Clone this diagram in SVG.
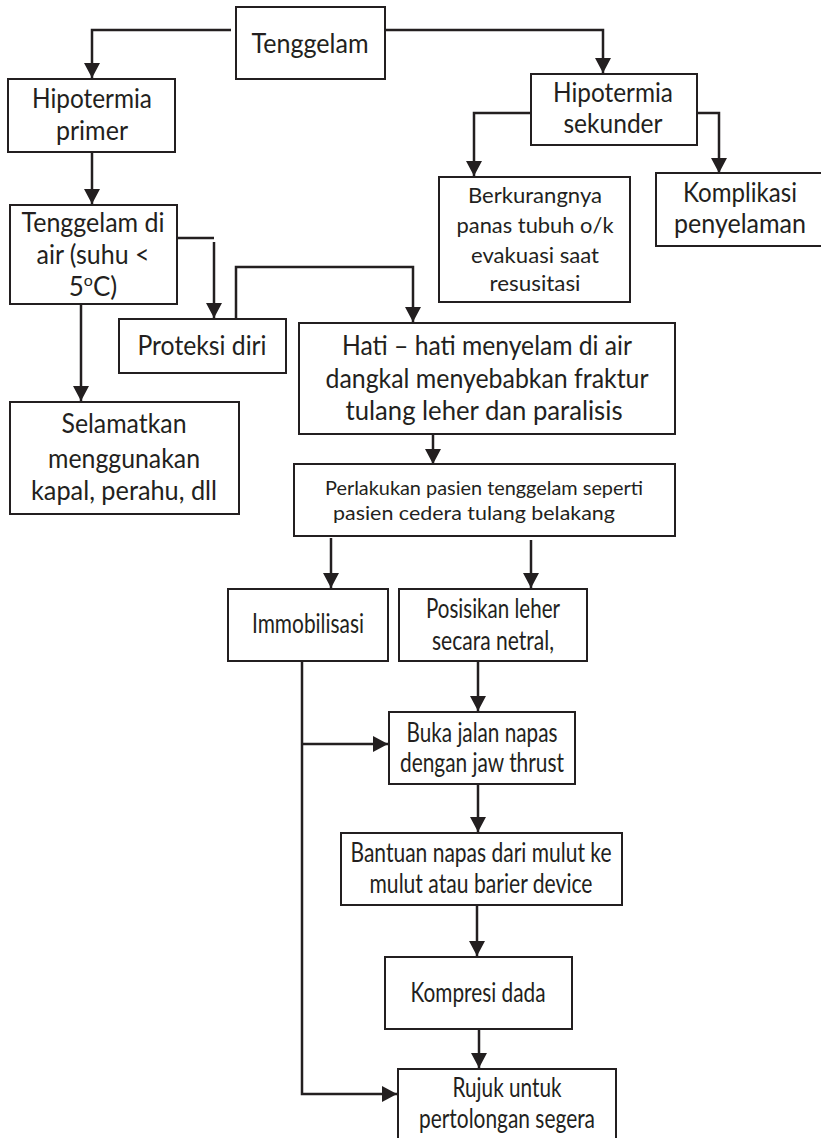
<svg xmlns="http://www.w3.org/2000/svg" width="821" height="1138" viewBox="0 0 821 1138">
  <style>
    .box { fill: #ffffff; stroke: #231f20; stroke-width: 2; }
    .t { font-family: Lato, "Liberation Sans", sans-serif; font-size: 26px; fill: #231f20; text-anchor: middle; }
    .s { font-size: 22px; }
    .xs { font-size: 19px; }
    .link { fill: none; stroke: #231f20; stroke-width: 2.5; }
  </style>
  <defs>
    <marker id="arrow" viewBox="0 0 15 16" refX="15" refY="8" markerWidth="15" markerHeight="16" markerUnits="userSpaceOnUse" orient="auto">
      <path d="M0,0 L15,8 L0,16 z" fill="#231f20"/>
    </marker>
  </defs>
  <rect width="821" height="1138" fill="#ffffff"/>

  <g id="connectors">
    <path class="link" d="M231,30 H92 V78" marker-end="url(#arrow)"/>
    <path class="link" d="M385,30 H603 V73" marker-end="url(#arrow)"/>
    <path class="link" d="M92,152 V204" marker-end="url(#arrow)"/>
    <path class="link" d="M176,238 H214"/>
    <path class="link" d="M214,242 V318" marker-end="url(#arrow)"/>
    <path class="link" d="M236,319 V267 H413 V322" marker-end="url(#arrow)"/>
    <path class="link" d="M81,304 V401" marker-end="url(#arrow)"/>
    <path class="link" d="M531,113 H474 V176" marker-end="url(#arrow)"/>
    <path class="link" d="M697,113 H719 V173" marker-end="url(#arrow)"/>
    <path class="link" d="M433,434 V464" marker-end="url(#arrow)"/>
    <path class="link" d="M331,538 V588" marker-end="url(#arrow)"/>
    <path class="link" d="M531,540 V588" marker-end="url(#arrow)"/>
    <path class="link" d="M478,662 V711" marker-end="url(#arrow)"/>
    <path class="link" d="M302,661 V1094 H397" marker-end="url(#arrow)"/>
    <path class="link" d="M302,744 H388" marker-end="url(#arrow)"/>
    <path class="link" d="M478,784 V832" marker-end="url(#arrow)"/>
    <path class="link" d="M477,905 V956" marker-end="url(#arrow)"/>
    <path class="link" d="M479,1029 V1068" marker-end="url(#arrow)"/>
  </g>

  <g id="tenggelam">
    <rect class="box" x="236" y="7" width="149" height="72"/>
    <text class="t" x="310" y="53" textLength="117" lengthAdjust="spacingAndGlyphs">Tenggelam</text>
  </g>

  <g id="hipotermia-primer">
    <rect class="box" x="8" y="79" width="167" height="73"/>
    <text class="t" x="92" y="108" textLength="120" lengthAdjust="spacingAndGlyphs">Hipotermia</text>
    <text class="t" x="92" y="140" textLength="72" lengthAdjust="spacingAndGlyphs">primer</text>
  </g>

  <g id="tenggelam-air">
    <rect class="box" x="10" y="205" width="167" height="99"/>
    <text class="t" x="93" y="232" textLength="143" lengthAdjust="spacingAndGlyphs">Tenggelam di</text>
    <text class="t" x="93" y="264" textLength="113" lengthAdjust="spacingAndGlyphs">air (suhu &lt;</text>
    <text class="t" x="93" y="296">5<tspan font-size="16" dy="-10">o</tspan><tspan dy="10">C)</tspan></text>
  </g>

  <g id="hipotermia-sekunder">
    <rect class="box" x="531" y="74" width="166" height="71"/>
    <text class="t" x="613" y="102" textLength="120" lengthAdjust="spacingAndGlyphs">Hipotermia</text>
    <text class="t" x="613" y="133" textLength="99" lengthAdjust="spacingAndGlyphs">sekunder</text>
  </g>

  <g id="berkurangnya">
    <rect class="box" x="439" y="177" width="191" height="125"/>
    <text class="t s" x="535" y="203" textLength="134" lengthAdjust="spacingAndGlyphs">Berkurangnya</text>
    <text class="t s" x="535" y="233" textLength="157" lengthAdjust="spacingAndGlyphs">panas tubuh o/k</text>
    <text class="t s" x="535" y="263" textLength="128" lengthAdjust="spacingAndGlyphs">evakuasi saat</text>
    <text class="t s" x="535" y="291" textLength="91" lengthAdjust="spacingAndGlyphs">resusitasi</text>
  </g>

  <g id="komplikasi">
    <rect class="box" x="656" y="173" width="166" height="73"/>
    <text class="t" x="740" y="202" textLength="114" lengthAdjust="spacingAndGlyphs">Komplikasi</text>
    <text class="t" x="740" y="233" textLength="132" lengthAdjust="spacingAndGlyphs">penyelaman</text>
  </g>

  <g id="proteksi">
    <rect class="box" x="119" y="319" width="167" height="54"/>
    <text class="t" x="202" y="355" textLength="129" lengthAdjust="spacingAndGlyphs">Proteksi diri</text>
  </g>

  <g id="selamatkan">
    <rect class="box" x="10" y="402" width="229" height="112"/>
    <text class="t" x="124" y="433" textLength="125" lengthAdjust="spacingAndGlyphs">Selamatkan</text>
    <text class="t" x="124" y="468" textLength="152" lengthAdjust="spacingAndGlyphs">menggunakan</text>
    <text class="t" x="124" y="500" textLength="186" lengthAdjust="spacingAndGlyphs">kapal, perahu, dll</text>
  </g>

  <g id="hati">
    <rect class="box" x="299" y="323" width="376" height="111"/>
    <text class="t" x="487" y="355" textLength="290" lengthAdjust="spacingAndGlyphs">Hati – hati menyelam di air</text>
    <text class="t" x="487" y="388" textLength="323" lengthAdjust="spacingAndGlyphs">dangkal menyebabkan fraktur</text>
    <text class="t" x="484" y="420" textLength="277" lengthAdjust="spacingAndGlyphs">tulang leher dan paralisis</text>
  </g>

  <g id="perlakukan">
    <rect class="box" x="294" y="464" width="381" height="72"/>
    <text class="t xs" x="484" y="495" textLength="318" lengthAdjust="spacingAndGlyphs">Perlakukan pasien tenggelam seperti</text>
    <text class="t xs" x="474" y="520" textLength="282" lengthAdjust="spacingAndGlyphs">pasien cedera tulang belakang</text>
  </g>

  <g id="immobilisasi">
    <rect class="box" x="228" y="589" width="160" height="72"/>
    <text class="t" x="308" y="633" textLength="112" lengthAdjust="spacingAndGlyphs">Immobilisasi</text>
  </g>

  <g id="posisikan">
    <rect class="box" x="399" y="589" width="188" height="72"/>
    <text class="t" x="493" y="618" textLength="134" lengthAdjust="spacingAndGlyphs">Posisikan leher</text>
    <text class="t" x="493" y="650" textLength="122" lengthAdjust="spacingAndGlyphs">secara netral,</text>
  </g>

  <g id="buka">
    <rect class="box" x="389" y="712" width="186" height="72"/>
    <text class="t" x="482" y="742" textLength="151" lengthAdjust="spacingAndGlyphs">Buka jalan napas</text>
    <text class="t" x="482" y="772" textLength="164" lengthAdjust="spacingAndGlyphs">dengan jaw thrust</text>
  </g>

  <g id="bantuan">
    <rect class="box" x="341" y="833" width="281" height="72"/>
    <text class="t" x="481" y="862" textLength="261" lengthAdjust="spacingAndGlyphs">Bantuan napas dari mulut ke</text>
    <text class="t" x="481" y="893" textLength="223" lengthAdjust="spacingAndGlyphs">mulut atau barier device</text>
  </g>

  <g id="kompresi">
    <rect class="box" x="385" y="957" width="187" height="72"/>
    <text class="t" x="478" y="1002" textLength="135" lengthAdjust="spacingAndGlyphs">Kompresi dada</text>
  </g>

  <g id="rujuk">
    <rect class="box" x="398" y="1069" width="218" height="80"/>
    <text class="t" x="507" y="1097" textLength="109" lengthAdjust="spacingAndGlyphs">Rujuk untuk</text>
    <text class="t" x="507" y="1128" textLength="176" lengthAdjust="spacingAndGlyphs">pertolongan segera</text>
  </g>
</svg>
